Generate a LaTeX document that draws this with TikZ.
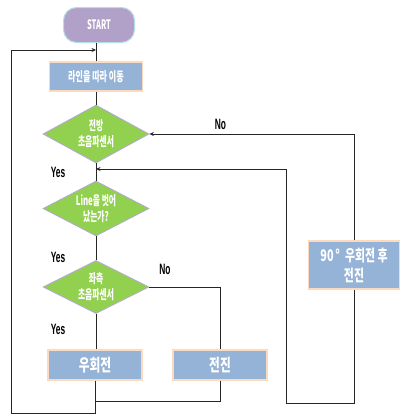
\documentclass[tikz,border=0pt]{standalone}
\usepackage{fontspec}
\usepackage{graphicx}
\setmainfont{Liberation Sans}
\newfontfamily\kr{Noto Sans CJK KR}
\usetikzlibrary{shapes.geometric,arrows.meta}
\definecolor{dgreen}{HTML}{92D050}
\definecolor{dborder}{HTML}{B4A7D6}
\definecolor{bfill}{HTML}{95B3D7}
\definecolor{bborder}{HTML}{FBDAC0}
\definecolor{sfill}{HTML}{B1A0C7}
\definecolor{sborder}{HTML}{B7DEE8}
\newcommand\nar[2][0.6]{\scalebox{#1}[1]{#2}}
\begin{document}
\begin{tikzpicture}[x=1pt,y=-1pt,
 conn/.style={line width=0.9pt, draw=black!85},
 arr/.style={conn,-{Stealth[length=4.5pt,width=4pt]}},
 decision/.style={diamond, aspect=2, fill=dgreen, draw=dborder, line width=0.8pt, inner sep=0pt, minimum width=106pt, text=white, font=\kr\bfseries\fontsize{13}{16}\selectfont, align=center},
 procbox/.style={rectangle, fill=bfill, draw=bborder, line width=1.2pt, inner sep=0pt, text=white, align=center},
 lbl/.style={font=\bfseries\fontsize{15}{15}\selectfont, inner sep=0pt, text=black}]
\useasboundingbox (0,0) rectangle (400,418);
\fill[white] (0,0) rectangle (400,418);

% nodes
\node[rectangle, rounded corners=13pt, fill=sfill, draw=sborder, line width=1pt, minimum width=71pt, minimum height=35pt, text=white, font=\kr\bfseries\fontsize{13}{14}\selectfont] (start) at (99,25) {\nar[0.57]{START}};
\node[procbox, minimum width=93pt, minimum height=29pt, font=\kr\bfseries\fontsize{13}{14}\selectfont] (b1) at (96,76.5) {\nar[0.62]{라인을 따라 이동}};
\node[decision, minimum height=58pt] (d1) at (96,134) {\nar{전방}\\\nar{초음파센서}};
\node[decision, minimum height=55pt] (d2) at (96,208.5) {\nar{Line을 벗어}\\\nar{났는가?}};
\node[decision, minimum height=53pt] (d3) at (96,287) {\nar{좌측}\\\nar{초음파센서}};
\node[procbox, minimum width=94pt, minimum height=30pt, font=\kr\bfseries\fontsize{17}{18}\selectfont] (rt) at (95,365) {\nar[0.69]{우회전}};
\node[procbox, minimum width=94pt, minimum height=30pt, font=\kr\bfseries\fontsize{17}{18}\selectfont] (fw) at (220,365) {\nar[0.69]{전진}};
\node[procbox, minimum width=91pt, minimum height=48pt, font=\kr\bfseries\fontsize{16}{20}\selectfont] (t90) at (354,265) {\nar[0.68]{90\,°\ \ 우회전 후}\\\nar[0.68]{전진}};

% labels
\node[lbl] (y1) at (58,172.5) {\nar[0.56]{Yes}};
\node[lbl] (y2) at (58,257.5) {\nar[0.56]{Yes}};
\node[lbl] (y3) at (58,329) {\nar[0.56]{Yes}};
\node[lbl] (n1) at (220.5,124) {\nar[0.56]{No}};
\node[lbl] (n3) at (165,269) {\nar[0.56]{No}};

% coordinates
\coordinate (lb) at (11,413);
\coordinate (lt) at (11,50);
\coordinate (jt) at (96,50);
\coordinate (c401) at (96,401);
\coordinate (r1) at (286,403);
\coordinate (r2) at (286,169);
\coordinate (j2) at (96,169);

% connectors
\draw[conn] (b1.north) -- (b1.north |- start.south);
\draw[conn] (b1.south) -- (d1.north);
\draw[conn] (d1.south) -- (d2.north);
\draw[conn] (d2.south) -- (d3.north);
\draw[conn] (d3.south) -- (d3.south |- rt.north);
\draw[conn] (d3.east) -| (fw.north);
\draw[conn] (fw.south) |- (c401);
\draw[arr] (rt.south) |- (lb) -- (lt) -- (jt);
\draw[arr] (t90.north) |- (d1.east);
\draw[arr] (t90.south) |- (r1) -- (r2) -- (j2);
\end{tikzpicture}
\end{document}
